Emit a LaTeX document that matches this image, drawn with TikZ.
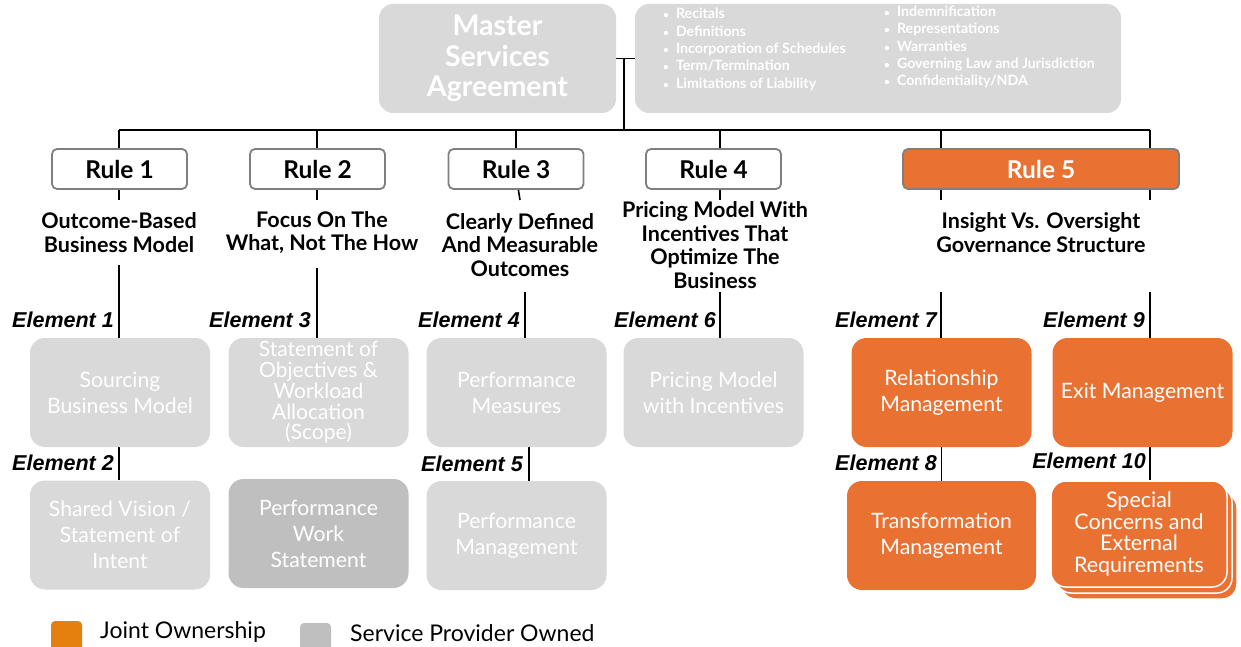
\documentclass[tikz,border=0pt]{standalone}
\usepackage{fontspec}
\setmainfont{Lato}
\newfontfamily\elemfont{Liberation Sans}
\usetikzlibrary{backgrounds}
\definecolor{pale}{HTML}{D9D9D9}
\definecolor{mid}{HTML}{BFBFBF}
\definecolor{joint}{HTML}{E97132}
\definecolor{legjoint}{HTML}{E5800E}
\definecolor{frame}{HTML}{7F7F7F}
\tikzset{
  conn/.style={draw=black, line width=1.6pt},
  msabox/.style={fill=pale, rounded corners=14pt, inner sep=0pt},
  rulebox/.style={draw=frame, line width=1.8pt, fill=white, rounded corners=5pt,
    minimum width=135pt, minimum height=40pt, inner sep=0pt,
    font=\fontsize{24.5}{26}\selectfont\bfseries},
  rulefive/.style={rulebox, fill=joint, text=white, minimum width=276pt},
  ruletitle/.style={align=center, inner sep=0pt, font=\fontsize{21.5}{23.5}\selectfont\bfseries},
  elabel/.style={anchor=east, inner sep=0pt, font=\elemfont\fontsize{21.5}{24}\selectfont\bfseries\itshape},
  ebox/.style={fill=pale, text=white, rounded corners=15pt, align=center, inner sep=0pt,
    minimum width=180pt, minimum height=109pt, font=\fontsize{21.2}{26}\selectfont},
  jbox/.style={ebox, fill=joint},
  legsq/.style={rounded corners=4pt, minimum width=31pt, minimum height=30pt, inner sep=0pt},
  legtext/.style={anchor=west, inner sep=0pt, font=\fontsize{23}{26}\selectfont},
  clauses/.style={anchor=north west, inner sep=0pt, align=left, text=white,
    font=\fontsize{14.2}{17.4}\selectfont\bfseries},
}
\newcommand{\clause}[1]{{\fontsize{10}{10}\selectfont\textbullet}\hspace{7pt}#1}
\begin{document}
\begin{tikzpicture}[x=1pt, y=-1pt]
\useasboundingbox (0,0) rectangle (1241,647);

% Master agreement and its clause list
\node[msabox, minimum width=237pt, minimum height=109pt, text=white, align=center,
  font=\fontsize{28.5}{30.5}\selectfont\bfseries] (msa) at (497.5,58.5)
  {Master\\Services\\Agreement};
\node[msabox, minimum width=486pt, minimum height=109pt] (list) at (878,58.5) {};
\node[clauses] (clausesA) at (663,8)
  {\clause{Recitals}\\ \clause{Definitions}\\ \clause{Incorporation of Schedules}\\
   \clause{Term/Termination}\\ \clause{Limitations of Liability}};
\node[clauses] (clausesB) at (884,5.5)
  {\clause{Indemnification}\\ \clause{Representations}\\ \clause{Warranties}\\
   \clause{Governing Law and Jurisdiction}\\ \clause{Confidentiality/NDA}};

% Rules
\node[rulebox] (r1) at (119.5,169) {Rule 1};
\node[rulebox] (r2) at (317.5,169) {Rule 2};
\node[rulebox] (r3) at (516,169) {Rule 3};
\node[rulebox] (r4) at (713.5,169) {Rule 4};
\node[rulefive] (r5) at (1041,169) {Rule 5};

\node[ruletitle] (t1) at (119,232.5) {Outcome-Based\\Business Model};
\node[ruletitle] (t2) at (322,232.5) {Focus On The\\What, Not The How};
\node[ruletitle] (t3) at (520,245) {Clearly Defined\\And Measurable\\Outcomes};
\node[ruletitle] (t4) at (715,245) {Pricing Model With\\Incentives That\\Optimize The\\Business};
\node[ruletitle] (t5) at (1041,232.5) {Insight Vs. Oversight\\Governance Structure};

% Elements
\node[ebox] (e1) at (120,392.5) {Sourcing\\Business Model};
\node[ebox, font=\fontsize{21}{20.7}\selectfont] (e3) at (318.5,392.5)
  {Statement of\\Objectives \&\\Workload\\Allocation\\(Scope)};
\node[ebox] (e4) at (516.5,392.5) {Performance\\Measures};
\node[ebox] (e6) at (713.5,392.5) {Pricing Model\\with Incentives};
\node[jbox] (e7) at (941.5,392.5) {Relationship\\Management};
\node[jbox] (e9) at (1142.5,392.5) {Exit Management};

\node[ebox] (e2) at (120,535) {Shared Vision /\\Statement of\\Intent};
\node[ebox, fill=mid] (pws) at (318.5,533.5) {Performance\\Work\\Statement};
\node[ebox] (e5) at (516.5,535.5) {Performance\\Management};
\node[jbox, minimum width=189pt] (e8) at (941.5,535.5) {Transformation\\Management};
\node[jbox, draw=white, line width=1.5pt, minimum width=176pt, minimum height=106pt] (e10c) at (1149,546) {};
\node[jbox, draw=white, line width=1.5pt, minimum width=176pt, minimum height=106pt] (e10b) at (1144,540) {};
\node[jbox, draw=white, line width=1.5pt, minimum width=176pt, minimum height=106pt,
  font=\fontsize{21.5}{21.6}\selectfont] (e10) at (1139,534)
  {Special\\Concerns and\\External\\Requirements};

% Element labels
\node[elabel] (l1) at (114,320) {Element 1};
\node[elabel] (l3) at (311,320) {Element 3};
\node[elabel] (l4) at (520,320) {Element 4};
\node[elabel] (l6) at (716,320) {Element 6};
\node[elabel] (l7) at (937,320) {Element 7};
\node[elabel] (l9) at (1145,320) {Element 9};
\node[elabel] (l2) at (114,463) {Element 2};
\node[elabel] (l5) at (523,464) {Element 5};
\node[elabel] (l8) at (937,463) {Element 8};
\node[elabel] (l10) at (1146,461) {Element 10};

% Connector points
\coordinate (hub) at (624,58.5);
\coordinate (hubbus) at (624,130);
\coordinate (busL) at (119,130);
\coordinate (busR) at (1150,130);
\coordinate (d2) at (317,130);
\coordinate (d3) at (516,130);
\coordinate (d4) at (720,130);
\coordinate (d5) at (941,130);
\coordinate (k1) at (119,200);
\coordinate (k2) at (317,200);
\coordinate (k3) at (520,200);
\coordinate (k4) at (720,200);
\coordinate (k5a) at (941,200);
\coordinate (k5b) at (1150,200);
\coordinate (s1) at (119,265);
\coordinate (s2) at (317,268);
\coordinate (s3) at (525,292);
\coordinate (s4) at (720,292);
\coordinate (s5a) at (941,292);
\coordinate (s5b) at (1150,292);

\begin{scope}[on background layer]
  \draw[conn] (msa.east) -- (list.west);
  \draw[conn] (hub) -- (hubbus);
  \draw[conn] (busL) -- (busR);
  \draw[conn] (busL) -- (k1);
  \draw[conn] (d2) -- (k2);
  \draw[conn] (d3) -- (516,175) -- (k3);
  \draw[conn] (d4) -- (k4);
  \draw[conn] (d5) -- (k5a);
  \draw[conn] (busR) -- (k5b);
  \draw[conn] (s1) -- (s1 |- e1.north);
  \draw[conn] (s2) -- (s2 |- e3.north);
  \draw[conn] (s3) -- (s3 |- e4.north);
  \draw[conn] (s4) -- (s4 |- e6.north);
  \draw[conn] (s5a) -- (s5a |- e7.north);
  \draw[conn] (s5b) -- (s5b |- e9.north);
  \draw[conn] ([xshift=-1pt]e1.south) -- ([xshift=-1pt]e2.north);
  \draw[conn] ([xshift=12.5pt]e4.south) -- ([xshift=12.5pt]e5.north);
  \draw[conn] (e7.south) -- (e8.north);
  \draw[conn] ([xshift=7.5pt]e9.south) -- ([xshift=7.5pt]e9.south |- e10.north);
\end{scope}

% Legend
\node[legsq, fill=legjoint] (kj) at (66.5,636) {};
\node[legtext] (kjt) at (100,632) {Joint Ownership};
\node[legsq, fill=mid] (kp) at (315.5,638) {};
\node[legtext] (kpt) at (350,633) {Service Provider Owned};
\end{tikzpicture}
\end{document}
